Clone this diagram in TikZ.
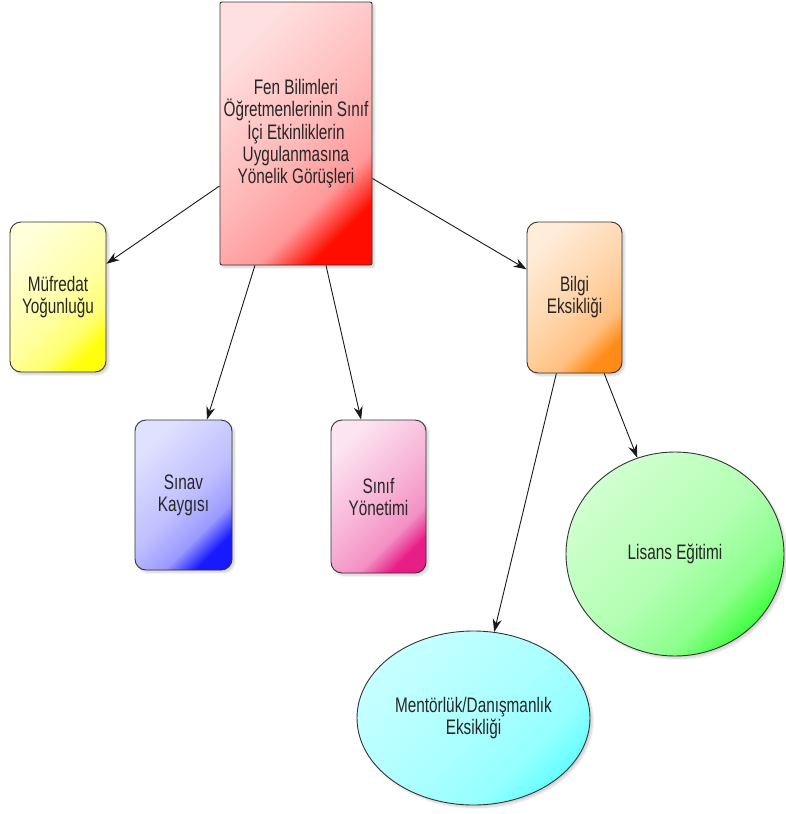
\documentclass[tikz,border=0pt]{standalone}
\usepackage{fontspec}
\setmainfont[FakeStretch=0.73]{Liberation Sans}
\usetikzlibrary{shapes.geometric,arrows.meta,shadows.blur}
\definecolor{pinkdeep}{RGB}{232,30,135}
\newcommand\mkshade[5]{\pgfdeclareverticalshading{#1}{100bp}{%
  color(0bp)=(#5); color(25bp)=(#5); color(34bp)=(#4); color(48bp)=(#3);
  color(75bp)=(#2); color(100bp)=(#2)}}
\mkshade{shmain}{red!12}{red!28}{red!40}{red!90!orange}
\mkshade{shmuf}{yellow!15}{yellow!35}{yellow!55}{yellow!95}
\mkshade{shsinav}{blue!12}{blue!25}{blue!40}{blue!90}
\mkshade{shsinif}{pinkdeep!12}{pinkdeep!35}{pinkdeep!50}{pinkdeep}
\mkshade{shbilgi}{orange!15}{orange!35}{orange!50}{orange!90}
\mkshade{shlis}{green!18}{green!30}{green!45}{green!75}
\mkshade{shment}{cyan!22}{cyan!33}{cyan!42}{cyan!60}
\tikzset{
  base/.style={draw=black!80, line width=0.9pt, inner sep=0pt, align=center,
    font=\fontsize{21}{22}\selectfont, text=black!85,
    blur shadow={shadow blur steps=6, shadow xshift=2.5pt, shadow yshift=-2.5pt, shadow opacity=18}},
  rbox/.style={base, rectangle, rounded corners=11pt},
  oval/.style={base, ellipse},
  grad/.style={shading=#1, shading angle=45},
  arr/.style={-{Stealth[length=13pt,width=9pt]}, line width=0.9pt, black!90}
}
\begin{document}
\begin{tikzpicture}[x=1pt,y=-1pt]
\useasboundingbox (0,0) rectangle (785,814);
\node[rbox, rounded corners=2pt, minimum width=152pt, minimum height=263pt,
  grad=shmain] (main) at (296,133.5)
  {Fen Bilimleri\\Öğretmenlerinin Sınıf\\İçi Etkinliklerin\\Uygulanmasına\\Yönelik Görüşleri};
\node[rbox, minimum width=96pt, minimum height=150pt, grad=shmuf] (muf) at (58,297) {Müfredat\\Yoğunluğu};
\node[rbox, minimum width=97pt, minimum height=150pt, grad=shsinav] (sinav) at (183.5,495) {Sınav\\Kaygısı};
\node[rbox, minimum width=95pt, minimum height=153pt, grad=shsinif] (sinif) at (378.5,496.5) {Sınıf\\Yönetimi};
\node[rbox, minimum width=95pt, minimum height=151pt, grad=shbilgi] (bilgi) at (574.5,297.5) {Bilgi\\Eksikliği};
\node[oval, minimum width=218pt, minimum height=204pt, grad=shlis] (lisans) at (675,554) {Lisans Eğitimi};
\node[oval, minimum width=233pt, minimum height=174pt, grad=shment] (ment) at (473.5,718) {Mentörlük/Danışmanlık\\Eksikliği};
\draw[arr] (main) -- (muf);
\draw[arr] (main) -- (sinav);
\draw[arr] (main) -- (sinif);
\draw[arr] (main) -- (bilgi);
\draw[arr] (bilgi) -- (ment);
\draw[arr] (bilgi) -- (lisans);
\end{tikzpicture}
\end{document}
